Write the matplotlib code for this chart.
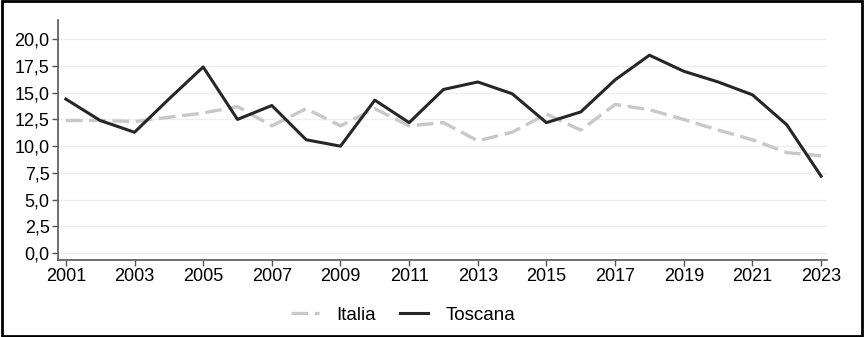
import matplotlib
matplotlib.use('Agg')
import matplotlib.pyplot as plt
from matplotlib.patches import Rectangle
from matplotlib.ticker import FuncFormatter

plt.rcParams['font.family'] = ['Liberation Sans', 'DejaVu Sans']

years = list(range(2001, 2024))
italia = [12.4, 12.4, 12.3, 12.7, 13.1, 13.7, 11.9, 13.5, 11.9, 13.5, 11.9, 12.2,
          10.5, 11.3, 13.0, 11.5, 13.9, 13.4, 12.5, 11.5, 10.6, 9.4, 9.1]
toscana = [14.4, 12.4, 11.3, 14.4, 17.4, 12.5, 13.8, 10.6, 10.0, 14.3, 12.2, 15.3,
           16.0, 14.9, 12.2, 13.2, 16.2, 18.5, 17.0, 16.0, 14.8, 12.0, 7.2]
yticks = [0, 2.5, 5, 7.5, 10, 12.5, 15, 17.5, 20]
xticks = list(range(2001, 2024, 2))

fig = plt.figure(figsize=(8.65, 3.37), dpi=100)
ax = fig.add_axes([0.067, 0.228, 0.889, 0.713])

ax.plot(years, italia, color='#c8c8c8', linewidth=2.4, dashes=(5, 2), label='Italia')
ax.plot(years, toscana, color='#262626', linewidth=2.2, label='Toscana')

ax.set_xlim(2000.77, 2023.17)
ax.set_ylim(-0.65, 21.8)
ax.set_yticks(yticks)
ax.set_xticks(xticks)
ax.yaxis.set_major_formatter(FuncFormatter(lambda v, p: f'{v:.1f}'.replace('.', ',')))
ax.grid(axis='y', color='#eeeeee', linewidth=1)
ax.set_axisbelow(True)

for s in ['top', 'right']:
    ax.spines[s].set_visible(False)
for s in ['left', 'bottom']:
    ax.spines[s].set_color('#555555')
    ax.spines[s].set_linewidth(1.2)
ax.tick_params(axis='both', colors='#555555', labelcolor='black', labelsize=13,
               length=4, width=1, pad=2)

fig.legend(loc='center', bbox_to_anchor=(0.466, 0.065), ncol=2, frameon=False,
           fontsize=13.5, handlelength=1.5, columnspacing=1.3, handletextpad=0.9)

fig.patches.append(Rectangle((0.002, 0.004), 0.995, 0.992, transform=fig.transFigure,
                             fill=False, edgecolor='black', linewidth=2))

fig.savefig('out.png', dpi=100)
